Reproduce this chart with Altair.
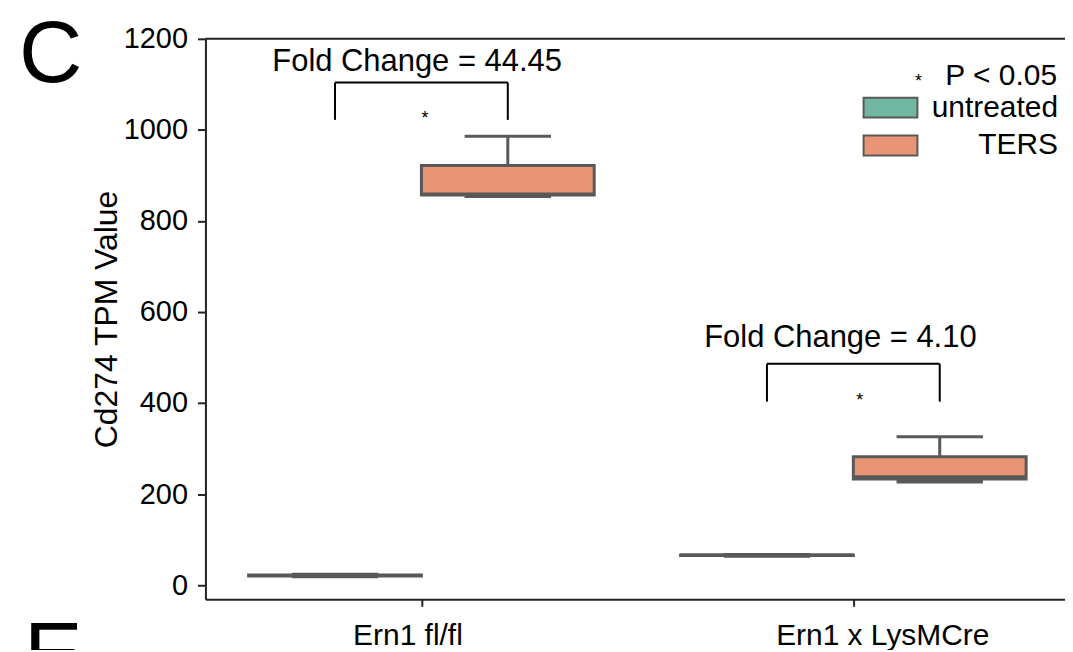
import altair as alt
import pandas as pd

# ---- data ----
categories = ["Ern1 fl/fl", "Ern1 x LysMCre"]
treatments = ["untreated", "TERS"]
group_cat = [0, 0, 1, 1]
group_treat = ["untreated", "TERS", "untreated", "TERS"]
whisker_lo = [19, 854, 64, 227]
q1 = [20, 857, 65, 233]
median = [21, 859, 66, 238]
q3 = [22, 922, 66, 282]
whisker_hi = [24, 986, 67, 326]

fold_labels = ["Fold Change = 44.45", "Fold Change = 4.10"]
fold_text_dx = [-0.01, -0.03]
fold_text_y = [1130, 523]
bracket_top = [1104, 486]
bracket_leg = [1022, 403]
star_dx = [0.008, 0.015]
star_y = [1024, 405]

colors = ["#71b6a1", "#e99575"]
edge = "#595959"
FONT = "Liberation Sans"

boxes = pd.DataFrame({
    "cat": group_cat, "treat": group_treat, "lo": whisker_lo, "q1": q1,
    "med": median, "q3": q3, "hi": whisker_hi,
})
ann = pd.DataFrame({
    "cat": [0, 1], "label": fold_labels, "tdx": fold_text_dx, "ty": fold_text_y,
    "top": bracket_top, "leg": bracket_leg, "sdx": star_dx, "sy": star_y,
})
one = pd.DataFrame({"k": [0]})

xscale = alt.Scale(domain=[-0.5, 1.49], nice=False, zero=False)
yscale = alt.Scale(domain=[-31, 1200], nice=False, zero=False)

label_expr = " : ".join(
    [f"datum.value == {i} ? '{c}'" for i, c in enumerate(categories[:-1])] + [f"'{categories[-1]}'"]
)

xaxis = alt.Axis(values=[0, 1], labelExpr=label_expr, title=None, grid=False,
                 labelFontSize=30, tickSize=7, labelPadding=14, labelLimit=0,
                 labelOffset={"condition": {"test": "datum.value == 0", "value": -14}, "value": 29})
yaxis = alt.Axis(values=[0, 200, 400, 600, 800, 1000, 1200], format="d", title="Cd274 TPM Value",
                 grid=False, labelFontSize=29, titleFontSize=32, titleFontWeight="normal",
                 tickSize=8, labelPadding=10, titlePadding=0)

base = alt.Chart(boxes).transform_calculate(
    pos="datum.cat + (datum.treat == 'TERS' ? 0.2 : -0.2)"
).transform_calculate(
    left="datum.pos - 0.2", right="datum.pos + 0.2",
    capl="datum.pos - 0.1", capr="datum.pos + 0.1",
)

wlo = base.mark_rule(color=edge, strokeWidth=3).encode(
    x=alt.X("pos:Q", scale=xscale, axis=xaxis),
    y=alt.Y("lo:Q", scale=yscale, axis=yaxis), y2="q1:Q")
whi = base.mark_rule(color=edge, strokeWidth=3).encode(
    x="pos:Q", y="q3:Q", y2="hi:Q")
caplo = base.mark_rule(color=edge, strokeWidth=3.5).encode(
    x="capl:Q", x2="capr:Q", y="lo:Q")
caphi = base.mark_rule(color=edge, strokeWidth=3).encode(
    x="capl:Q", x2="capr:Q", y="hi:Q")
box = base.mark_bar(stroke=edge, strokeWidth=3, opacity=1).encode(
    x="left:Q", x2="right:Q", y="q1:Q", y2="q3:Q",
    color=alt.Color("treat:N", scale=alt.Scale(domain=treatments, range=colors),
                    legend=alt.Legend(
                        title=None, orient="none", legendX=672, legendY=54,
                        symbolType="M-2.7,-1H2.7V1H-2.7Z", symbolSize=400,
                        symbolStrokeColor=edge, symbolStrokeWidth=2, symbolOpacity=1,
                        labelFontSize=30, labelAlign="right", labelOffset=153,
                        labelLimit=400, rowPadding=8, padding=0)))
med = base.mark_rule(color=edge, strokeWidth=3).encode(
    x="left:Q", x2="right:Q", y="med:Q")

abase = alt.Chart(ann).transform_calculate(
    bl="datum.cat - 0.2", br="datum.cat + 0.2",
    tx="datum.cat + datum.tdx", sx="datum.cat + datum.sdx"
)
leg_l = abase.mark_rule(color="black", strokeWidth=2).encode(x="bl:Q", y="leg:Q", y2="top:Q")
leg_r = abase.mark_rule(color="black", strokeWidth=2).encode(x="br:Q", y="leg:Q", y2="top:Q")
btop = abase.mark_rule(color="black", strokeWidth=2).encode(x="bl:Q", x2="br:Q", y="top:Q")
ftext = abase.mark_text(fontSize=31, align="center", baseline="alphabetic", color="black").encode(
    x="tx:Q", y="ty:Q", text="label:N")
stars = abase.mark_text(fontSize=18, align="center", baseline="middle", color="black").encode(
    x="sx:Q", y="sy:Q", text=alt.value("*"))

top_spine = alt.Chart(one).mark_rule(color="#222", strokeWidth=2).encode(y=alt.datum(1200))

pleg_star = alt.Chart(one).mark_text(fontSize=18, align="center", baseline="middle").encode(
    x=alt.value(715), y=alt.value(43), text=alt.value("*"))
pleg_text = alt.Chart(one).mark_text(fontSize=30, align="right", baseline="middle").encode(
    x=alt.value(854), y=alt.value(37), text=alt.value("P < 0.05"))
letter_c = alt.Chart(one).mark_text(fontSize=88, align="left", baseline="alphabetic").encode(
    x=alt.value(-187), y=alt.value(43), text=alt.value("C"))
letter_e = alt.Chart(one).mark_text(fontSize=88, align="left", baseline="alphabetic").encode(
    x=alt.value(-182), y=alt.value(646), text=alt.value("E"))

chart = alt.layer(
    wlo, whi, caplo, caphi, box, med, leg_l, leg_r, btop, ftext, stars, top_spine,
    pleg_star, pleg_text, letter_c, letter_e
).properties(
    width=862, height=562, autosize="none",
    padding={"left": 198, "top": 30, "right": 0, "bottom": 50},
).configure(font=FONT).configure_view(stroke=None).configure_axis(
    domainColor="#222", domainWidth=2, tickColor="#222", tickWidth=2,
    labelColor="black", titleColor="black", labelFont=FONT, titleFont=FONT,
).configure_legend(labelFont=FONT, labelColor="black")

chart.save("out.html", embed_options={"renderer": "svg", "actions": False})
